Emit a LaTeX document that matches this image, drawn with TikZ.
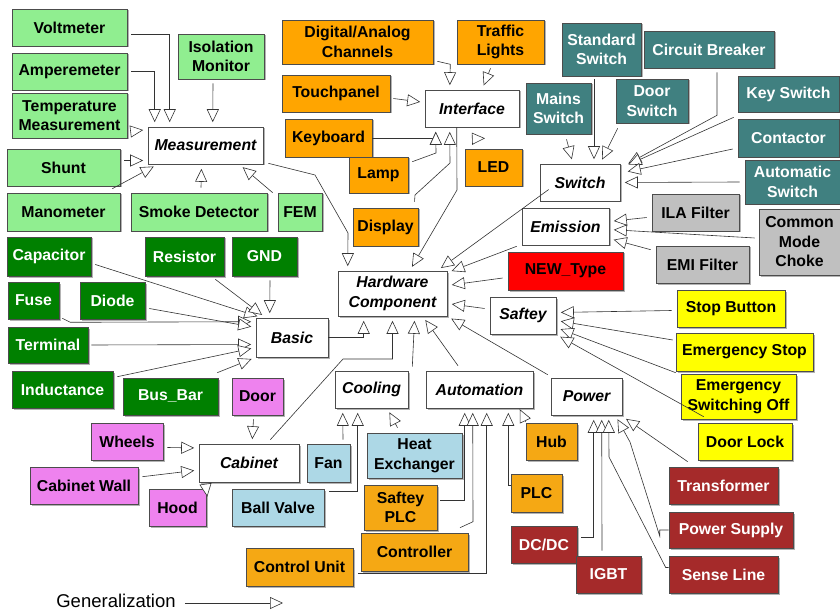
\documentclass[tikz,border=0pt]{standalone}
\usepackage{fontspec}
\setmainfont{Liberation Sans}
\usetikzlibrary{arrows.meta,calc,shadows}

\definecolor{lgreen}{HTML}{90EE90}
\definecolor{dgreen}{HTML}{008000}
\definecolor{orng}{HTML}{FFA500}
\definecolor{aorng}{HTML}{F5A814}
\definecolor{tealbox}{HTML}{408080}
\definecolor{silv}{HTML}{C0C0C0}
\definecolor{yel}{HTML}{FFFF00}
\definecolor{viol}{HTML}{EE82EE}
\definecolor{lblue}{HTML}{ADD8E6}
\definecolor{dred}{HTML}{A52A2A}
\definecolor{newred}{HTML}{FF0000}

\tikzset{every picture/.style={line width=0.6pt}}
\tikzset{
  box/.style={draw=black!70, inner sep=0pt, align=center,
    font=\fontsize{15.8}{19.5}\selectfont\bfseries,
    drop shadow={shadow xshift=1.5pt, shadow yshift=-1.5pt, fill=black!50, opacity=0.6}},
  sz/.style 2 args={minimum width=#1pt, minimum height=#2pt},
  abstr/.style={box, fill=white, font=\fontsize{15.8}{19.5}\selectfont\bfseries\itshape},
  meas/.style={box, fill=lgreen},
  basicel/.style={box, fill=dgreen, text=white},
  iface/.style={box, fill=orng},
  autel/.style={box, fill=aorng},
  swel/.style={box, fill=tealbox, text=white},
  emiel/.style={box, fill=silv},
  newel/.style={box, fill=newred},
  safel/.style={box, fill=yel},
  cabel/.style={box, fill=viol},
  coolel/.style={box, fill=lblue},
  powel/.style={box, fill=dred, text=white},
  gen/.style={draw=black!80, -{Triangle[length=13pt, width=12pt, fill=white]}, shorten >=4.5pt},
}

\begin{document}
\begin{tikzpicture}[x=1pt,y=1pt,yscale=-1,xscale=1]
\useasboundingbox (0,0) rectangle (840,612);

% Abstract classes
\node[abstr, sz={109}{45}] (hw) at (392.5,293.5) {Hardware\\Component};
\node[abstr, sz={115}{37}] (meas) at (205.5,145.5) {Measurement};
\node[abstr, sz={94}{37}] (intf) at (472,108.5) {Interface};
\node[abstr, sz={80}{37}] (sw) at (580,182.5) {Switch};
\node[abstr, sz={87}{37}] (emi) at (565.5,226.5) {Emission};
\node[abstr, sz={66}{37}] (saf) at (523,315.5) {Saftey};
\node[abstr, sz={72}{39}] (basic) at (292,337.5) {Basic};
\node[abstr, sz={100}{38}] (cab) at (249,463) {Cabinet};
\node[abstr, sz={73}{37}] (cool) at (371.5,389.5) {Cooling};
\node[abstr, sz={107}{37}] (autom) at (479.5,389.5) {Automation};
\node[abstr, sz={71}{37}] (pow) at (586.5,396.5) {Power};

% Measurement
\node[meas, sz={115}{37}] (volt) at (69.5,27.5) {Voltmeter};
\node[meas, sz={115}{37}] (amp) at (69.5,71.5) {Amperemeter};
\node[meas, sz={115}{45}] (tempm) at (69.5,115.5) {Temperature\\Measurement};
\node[meas, sz={86}{45}] (iso) at (221,56.5) {Isolation\\Monitor};
\node[meas, sz={113}{37}] (shunt) at (63.5,167.5) {Shunt};
\node[meas, sz={113}{38}] (mano) at (63.5,212) {Manometer};
\node[meas, sz={136}{38}] (smoke) at (199,212) {Smoke Detector};
\node[meas, sz={44}{38}] (fem) at (300,212) {FEM};

% Interface
\node[iface, sz={151}{44}] (dig) at (357.5,42) {Digital/Analog\\Channels};
\node[iface, sz={87}{44}] (traf) at (500.5,42) {Traffic\\Lights};
\node[iface, sz={108}{37}] (touch) at (336,93.5) {Touchpanel};
\node[iface, sz={87}{38}] (kbd) at (328.5,138) {Keyboard};
\node[iface, sz={59}{36}] (lamp) at (378.5,175) {Lamp};
\node[iface, sz={57}{37}] (led) at (493.5,167.5) {LED};
\node[iface, sz={65}{38}] (disp) at (385.5,227) {Display};

% Switch
\node[swel, sz={79}{53}] (std) at (601.5,49.5) {Standard\\Switch};
\node[swel, sz={130}{37}] (cb) at (709,49.5) {Circuit Breaker};
\node[swel, sz={65}{51}] (mains) at (558.5,108.5) {Mains\\Switch};
\node[swel, sz={72}{44}] (dsw) at (652,101) {Door\\Switch};
\node[swel, sz={101}{36}] (key) at (788.5,94) {Key Switch};
\node[swel, sz={101}{38}] (cont) at (788.5,138) {Contactor};
\node[swel, sz={95}{44}] (autosw) at (792.5,182) {Automatic\\Switch};

% Emission
\node[emiel, sz={87}{37}] (ila) at (695.5,212.5) {ILA Filter};
\node[emiel, sz={81}{66}] (cmc) at (799.5,242) {Common\\Mode\\Choke};
\node[emiel, sz={93}{37}] (emif) at (702.5,264.5) {EMI Filter};
\node[newel, sz={115}{38}] (newt) at (565.5,271) {NEW\_Type};

% Saftey
\node[safel, sz={108}{37}] (stop) at (731,308.5) {Stop Button};
\node[safel, sz={137}{38}] (estop) at (744.5,352) {Emergency Stop};
\node[safel, sz={115}{45}] (esoff) at (738.5,396.5) {Emergency\\Switching Off};
\node[safel, sz={94}{37}] (dlock) at (745,441.5) {Door Lock};

% Basic
\node[basicel, sz={84}{39}] (cap) at (49,256.5) {Capacitor};
\node[basicel, sz={79}{39}] (res) at (184.5,256.5) {Resistor};
\node[basicel, sz={65}{39}] (gnd) at (264.5,256.5) {GND};
\node[basicel, sz={51}{37}] (fuse) at (33.5,300.5) {Fuse};
\node[basicel, sz={65}{37}] (diode) at (112.5,300.5) {Diode};
\node[basicel, sz={80}{36}] (term) at (48,345) {Terminal};
\node[basicel, sz={101}{37}] (ind) at (62.5,389.5) {Inductance};
\node[basicel, sz={95}{37}] (bus) at (170.5,396.5) {Bus\_Bar};

% Cabinet
\node[cabel, sz={51}{37}] (door) at (257.5,396.5) {Door};
\node[cabel, sz={72}{37}] (whl) at (127,441.5) {Wheels};
\node[cabel, sz={108}{37}] (cwall) at (84,485.5) {Cabinet Wall};
\node[cabel, sz={57}{37}] (hood) at (177.5,507.5) {Hood};

% Cooling
\node[coolel, sz={43}{38}] (fan) at (328.5,463) {Fan};
\node[coolel, sz={95}{45}] (hx) at (414.5,455.5) {Heat\\Exchanger};
\node[coolel, sz={92}{37}] (bv) at (278,507.5) {Ball Valve};

% Automation
\node[autel, sz={51}{37}] (hub) at (551.5,441.5) {Hub};
\node[autel, sz={51}{38}] (plc) at (536.5,493) {PLC};
\node[autel, sz={73}{45}] (splc) at (400.5,507.5) {Saftey\\PLC};
\node[autel, sz={107}{38}] (ctrl) at (414.5,552) {Controller};
\node[autel, sz={107}{38}] (cu) at (299.5,567) {Control Unit};

% Power
\node[powel, sz={109}{37}] (trans) at (723.5,485.5) {Transformer};
\node[powel, sz={124}{36}] (psu) at (731,530) {Power Supply};
\node[powel, sz={109}{37}] (sense) at (723.5,574.5) {Sense Line};
\node[powel, sz={66}{37}] (dcdc) at (544,544.5) {DC/DC};
\node[powel, sz={65}{37}] (igbt) at (608.5,574.5) {IGBT};

% Legend
\node[inner sep=0pt, font=\fontsize{18.5}{22}\selectfont] (legend) at (116,601) {Generalization};
\coordinate (legtip) at (283,603);
\draw[gen, shorten >=0pt] ($(legend.east)+(9,2)$) -- (legtip);

% Measurement
\draw[gen] ($(volt.east)+(4,6.5)$) -| ($(meas.north west)+(22,0)$);
\draw[gen] ($(amp.east)+(4,0)$) -| ($(meas.north west)+(7,0)$);
\draw[gen] ($(iso.south)+(-8,4)$) -- ($(meas.north west)+(65,0)$);
\draw[gen] ($(tempm.east)+(3,16)$) -- ($(meas.west)+(0,-16)$);
\draw[gen] ($(shunt.east)+(4,-7)$) -- ($(meas.west)+(0,15)$);
\draw[gen] ($(mano.north east)+(-8,-4)$) -- ($(meas.south west)+(10,0)$);
\draw[gen] ($(smoke.north)+(2,-5)$) -- ($(meas.south)+(-4,0)$);
\draw[gen] ($(fem.north west)+(-5,0)$) -- ($(meas.south east)+(-24,0)$);
\draw[gen] ($(meas.south east)+(5,-1)$) -- (315,175) -- (348,233) -- ($(hw.north west)+(10,0)$);

% Interface
\draw[gen] ($(dig.south east)+(4,-3)$) -- ($(dig.south east)+(17,0)$) -- ($(intf.north west)+(25,0)$);
\draw[gen] ($(traf.south)+(-10,4)$) -- ($(intf.north)+(10,0)$);
\draw[gen] ($(touch.east)+(3,5)$) -- ($(intf.west)+(0,-6)$);
\draw[gen] (kbd.east) -| ($(intf.south west)+(11,0)$);
\draw[gen] ($(lamp.north east)+(4,5)$) -- (436,153) -- ($(intf.south west)+(11,0)$);
\draw[gen] ($(disp.north)+(29,-6)$) -- (415,195) -- (450,163) -- ($(intf.south west)+(25,0)$);
\draw[gen, shorten >=0pt] ($(led.north)+(-21,-10)$) -- ($(intf.south)+(13,11)$);
\draw[gen] ($(intf.south west)+(32,0)$) -- (457,190) -- ($(hw.north west)+(72,0)$);

% Switch
\draw[gen] ($(mains.south)+(8,5)$) -- ($(sw.north)+(-7,0)$);
\draw[gen] ($(std.south)+(-7.5,3)$) -- ($(sw.north)+(14,0)$);
\draw[gen] ($(dsw.south west)+(2,5)$) -- ($(sw.north)+(20,0)$);
\draw[gen] ($(cb.south)+(8,4)$) -- ($(cb.south)+(8,47)$) -- ($(sw.north east)+(4,2)$);
\draw[gen] ($(key.south west)+(-4,5)$) -- ($(sw.east)+(4,-16)$);
\draw[gen] ($(cont.west)+(-5,11)$) -- ($(sw.east)+(3,-10)$);
\draw[gen] ($(autosw.west)+(-5,0)$) -- (sw.east);
\draw[gen] ($(sw.west)+(9,7)$) -- ($(hw.north east)+(-10,0)$);

% Emission
\draw[gen] ($(ila.west)+(-5,5)$) -- ($(emi.east)+(0,-5)$);
\draw[gen] ($(cmc.west)+(-4,-4)$) -- ($(emi.east)+(0,3)$);
\draw[gen] ($(emif.north west)+(-5,4)$) -- ($(emi.east)+(0,12)$);
\draw[gen] ($(emi.south west)+(-5,1)$) -- ($(hw.north east)+(0,2)$);
\draw[gen] ($(newt.west)+(-5,7)$) -- ($(hw.east)+(0,-8)$);

% Saftey
\draw[gen] ($(saf.west)+(-5,-7)$) -- ($(hw.east)+(0,10)$);
\draw[gen] ($(stop.west)+(-5,2)$) -- ($(saf.east)+(0,-3)$);
\draw[gen] ($(estop.west)+(-3,-12)$) -- ($(saf.east)+(0,5)$);
\draw[gen] ($(esoff.north west)+(-5,-1)$) -- ($(saf.east)+(0,12)$);
\draw[gen] ($(dlock.north west)+(6,-6)$) -- ($(saf.east)+(0,19)$);

% Basic
\draw[gen] ($(cap.east)+(4,8)$) -- ($(basic.north west)+(6,0)$);
\draw[gen] ($(res.south east)+(-9,3)$) -- ($(basic.north west)+(10,0)$);
\draw[gen] ($(gnd.south)+(5.5,4)$) -- ($(basic.north west)+(14,0)$);
\draw[gen] ($(fuse.south east)+(3,-1)$) -- ++(8,4) -- ($(basic.north west)+(0,4)$);
\draw[gen] ($(diode.east)+(4,8)$) -- ($(basic.west)+(0,-10)$);
\draw[gen] ($(term.east)+(3,0)$) -- ($(basic.west)+(0,7)$);
\draw[gen] ($(ind.north east)+(4,6)$) -- ($(basic.west)+(0,10)$);
\draw[gen] ($(bus.north east)+(-1,-5)$) -- (basic.south west);
\draw[gen] (basic.east) -| ($(hw.south west)+(26,0)$);

% Cabinet
\draw[gen] ($(door.south)+(-4,4)$) -- ($(cab.north)+(3,0)$);
\draw[gen] ($(whl.east)+(4,6)$) -- ($(cab.west)+(0,-15)$);
\draw[gen] ($(cwall.north east)+(4,10)$) -- ($(cab.west)+(0,7)$);
\draw[gen, shorten >=0pt] ($(cab.south west)+(7,3)$) -- ($(hood.north east)+(1,8)$);
\draw[gen] ($(cab.north east)+(-29,-4)$) -- (343,359) -| (hw.south);

% Cooling
\draw[gen] ($(fan.north)+(14.5,-4)$) -- ($(cool.south west)+(8,0)$);
\draw[gen] ($(bv.north east)+(5,3)$) -| ($(cool.south west)+(23,0)$);
\draw[gen] ($(hx.north)+(-17,-5)$) -- ($(cool.south east)+(-21,0)$);
\draw[gen] ($(cool.north east)+(4,-4)$) -- ($(hw.south west)+(77,0)$);

% Automation
\draw[gen] ($(autom.north)+(-21.5,-5)$) -- ($(hw.south west)+(85,0)$);
\draw[gen] ($(splc.east)+(3,-7.5)$) -| ($(autom.south west)+(39,0)$);
\draw[gen] ($(ctrl.north)+(45.5,-5)$) -- ++(13,-6) -- ($(autom.south west)+(47,0)$);
\draw[gen] ($(cu.east)+(5,6)$) -| ($(autom.south west)+(61,0)$);
\draw[gen] ($(plc.west)+(0,-8)$) -| ($(autom.south east)+(-25,0)$);
\draw[gen, shorten >=1pt] ($(hub.north west)+(0,-1)$) -- ($(autom.south east)+(-14,0)$);

% Power
\draw[gen] ($(pow.north west)+(-3,-3)$) -- (hw.south east);
\draw[gen] ($(dcdc.east)+(4,-7.5)$) -| ($(pow.south west)+(43,0)$);
\draw[gen] ($(igbt.north)+(-6.5,-5)$) -- ($(pow.south west)+(51,0)$);
\draw[gen] ($(sense.west)+(0,-7)$) -- ++(-3,0) -- (609,457) -- ($(pow.south west)+(58,0)$);
\draw[gen] (psu.west) -- ++(-9,0) -- ++(0,6) -- (630,442) -- ($(pow.south east)+(-7,0)$);
\draw[gen] ($(trans.north west)+(19,-5)$) -- ($(pow.south east)+(0,1)$);

\end{tikzpicture}
\end{document}
